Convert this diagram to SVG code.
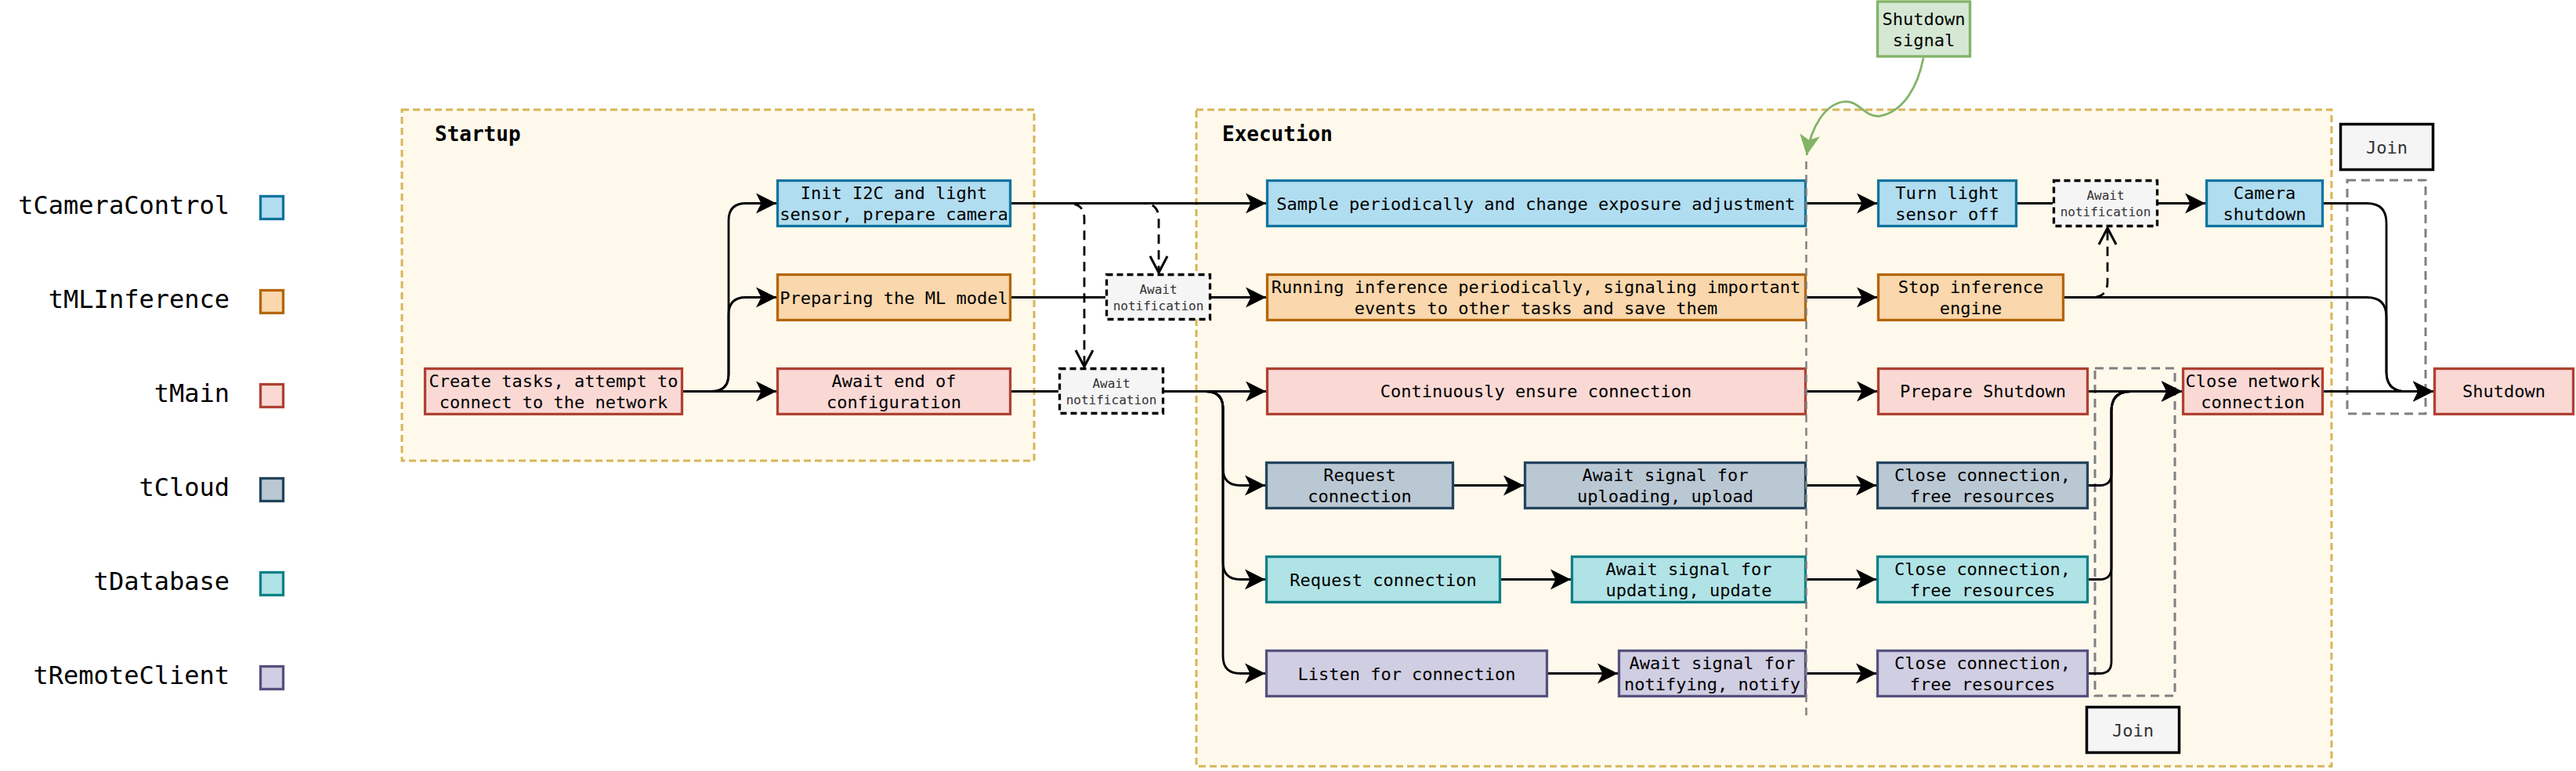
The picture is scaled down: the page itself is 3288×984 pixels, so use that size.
<svg xmlns="http://www.w3.org/2000/svg" width="3288" height="984" viewBox="0 0 3288 984">
<style>
text{font-family:'DejaVu Sans Mono','Liberation Mono',monospace;font-size:22px;fill:#000;text-anchor:middle}
.leg{font-size:32px;text-anchor:end}
.ttl{font-size:26px;font-weight:bold;text-anchor:start}
.aw{font-size:16px;fill:#333}
.jt{fill:#333}
.grp{fill:#fff9ec;stroke:#d6b656;stroke-width:3;stroke-dasharray:9 5}
.n{stroke-width:3.3}
.blue{fill:#b1ddf0;stroke:#10739e}
.org{fill:#fad7ac;stroke:#b46504}
.red{fill:#fad9d5;stroke:#ae4132}
.cld{fill:#bac8d3;stroke:#23445d}
.db{fill:#b0e3e6;stroke:#0e8088}
.rc{fill:#d0cee2;stroke:#56517e}
.grn{fill:#d5e8d4;stroke:#82b366}
.await{fill:#f5f5f5;stroke:#000;stroke-width:3.3;stroke-dasharray:8 5}
.join{fill:#f5f5f5;stroke:#000;stroke-width:3.5}
.gdash{fill:none;stroke:#808080;stroke-width:3;stroke-dasharray:11 7}
.e{fill:none;stroke:#000;stroke-width:2.8}
.ea{marker-end:url(#arr)}
.ed{stroke-dasharray:12 8;marker-end:url(#open)}
</style>
<defs>
<marker id="arr" markerUnits="userSpaceOnUse" viewBox="-28 -15 30 30" markerWidth="30" markerHeight="30" refX="0" refY="0" orient="auto" overflow="visible"><path d="M0,0 L-26,-13 L-19.5,0 L-26,13 Z" fill="#000" stroke="none"/></marker>
<marker id="open" markerUnits="userSpaceOnUse" viewBox="-28 -15 30 30" markerWidth="30" markerHeight="30" refX="0" refY="0" orient="auto" overflow="visible"><path d="M-21,-11 L0,0 L-21,11" fill="none" stroke="#000" stroke-width="3" stroke-dasharray="none"/></marker>
<marker id="garr" markerUnits="userSpaceOnUse" viewBox="-28 -15 30 30" markerWidth="30" markerHeight="30" refX="0" refY="0" orient="auto" overflow="visible"><path d="M0,0 L-26,-13 L-19.5,0 L-26,13 Z" fill="#82b366" stroke="none"/></marker>
</defs>
<rect width="3288" height="984" fill="#fff"/>

<g id="legend">
<text class="leg" x="293" y="273">tCameraControl</text><rect class="n blue" x="332.5" y="250.5" width="29" height="29"/>
<text class="leg" x="293" y="393">tMLInference</text><rect class="n org" x="332.5" y="370.5" width="29" height="29"/>
<text class="leg" x="293" y="513">tMain</text><rect class="n red" x="332.5" y="490.5" width="29" height="29"/>
<text class="leg" x="293" y="633">tCloud</text><rect class="n cld" x="332.5" y="610.5" width="29" height="29"/>
<text class="leg" x="293" y="753">tDatabase</text><rect class="n db" x="332.5" y="730.5" width="29" height="29"/>
<text class="leg" x="293" y="873">tRemoteClient</text><rect class="n rc" x="332.5" y="850.5" width="29" height="29"/>
</g>

<g id="startup"><rect class="grp" x="513" y="140" width="807" height="448"/><text class="ttl" x="555" y="180">Startup</text></g>
<g id="execution"><rect class="grp" x="1527" y="140" width="1449" height="838"/><text class="ttl" x="1560" y="180">Execution</text></g>

<g id="join-areas">
<rect class="gdash" x="2996" y="230" width="100" height="298"/>
<rect class="gdash" x="2674" y="470" width="102" height="418"/>
</g>

<g id="connectors">
<path class="e ea" d="M872,499.5 H991"/>
<path class="e ea" d="M872,499.5 H908 Q930,499.5 930,477.5 V281.5 Q930,259.5 952,259.5 H991"/>
<path class="e ea" d="M872,499.5 H908 Q930,499.5 930,477.5 V401.5 Q930,379.5 952,379.5 H991"/>
<path class="e ea" d="M1291,259.5 H1616"/>
<path class="e ed" d="M1291,259.5 H1364 Q1384,259.5 1384,279.5 V468"/>
<path class="e ed" d="M1291,259.5 H1459 Q1479,259.5 1479,279.5 V348"/>
<path class="e" d="M1291,379.5 H1411"/>
<path class="e ea" d="M1546,379.5 H1616"/>
<path class="e" d="M1291,499.5 H1351"/>
<path class="e ea" d="M1486,499.5 H1616"/>
<path class="e ea" d="M1486,499.5 H1539 Q1561,499.5 1561,521.5 V597.5 Q1561,619.5 1583,619.5 H1615"/>
<path class="e ea" d="M1486,499.5 H1539 Q1561,499.5 1561,521.5 V717.5 Q1561,739.5 1583,739.5 H1615"/>
<path class="e ea" d="M1486,499.5 H1539 Q1561,499.5 1561,521.5 V837.5 Q1561,859.5 1583,859.5 H1615"/>
<path class="e ea" d="M1856,619.5 H1945"/>
<path class="e ea" d="M1916,739.5 H2005"/>
<path class="e ea" d="M1976,859.5 H2065"/>
<path class="e ea" d="M2306,259.5 H2396"/>
<path class="e ea" d="M2306,379.5 H2396"/>
<path class="e ea" d="M2306,499.5 H2396"/>
<path class="e ea" d="M2306,619.5 H2395"/>
<path class="e ea" d="M2306,739.5 H2395"/>
<path class="e ea" d="M2306,859.5 H2395"/>
<path class="e" d="M2575,259.5 H2620"/>
<path class="e ea" d="M2755,259.5 H2815"/>
<path class="e ed" d="M2635,379.5 H2670 Q2690,379.5 2690,359.5 V291"/>
<path class="e ea" d="M2635,379.5 H3021 Q3046,379.5 3046,404.5 V474.5 Q3046,499.5 3071,499.5 H3106"/>
<path class="e ea" d="M2966,259.5 H3021 Q3046,259.5 3046,284.5 V474.5 Q3046,499.5 3071,499.5 H3106"/>
<path class="e ea" d="M2966,499.5 H3106"/>
<path class="e ea" d="M2666,499.5 H2785"/>
<path class="e ea" d="M2666,619.5 H2680 Q2695,619.5 2695,604.5 V524.5 Q2695,499.5 2720,499.5 H2785"/>
<path class="e ea" d="M2666,739.5 H2680 Q2695,739.5 2695,724.5 V524.5 Q2695,499.5 2720,499.5 H2785"/>
<path class="e ea" d="M2666,859.5 H2680 Q2695,859.5 2695,844.5 V524.5 Q2695,499.5 2720,499.5 H2785"/>
<path d="M2455,74 C2448,110 2430,142 2400,148 C2380,151 2372,126 2352,130 C2330,134 2312,160 2306,198" fill="none" stroke="#82b366" stroke-width="2.8" marker-end="url(#garr)"/>
</g>

<g id="n_create"><rect class="n red" x="542.5" y="470.5" width="328" height="58"/><text x="706.5" y="493.5">Create tasks, attempt to</text><text x="706.5" y="520.5">connect to the network</text></g>
<g id="n_init"><rect class="n blue" x="992.5" y="230.5" width="297" height="58"/><text x="1141" y="254">Init I2C and light</text><text x="1141" y="281">sensor, prepare camera</text></g>
<g id="n_prepml"><rect class="n org" x="992.5" y="350.5" width="297" height="58"/><text x="1141" y="387.5">Preparing the ML model</text></g>
<g id="n_awaitcfg"><rect class="n red" x="992.5" y="470.5" width="297" height="58"/><text x="1141" y="494">Await end of</text><text x="1141" y="521">configuration</text></g>
<g id="n_await1"><rect class="await" x="1412.5" y="350.5" width="132" height="57"/><text class="aw" x="1478.5" y="374.5">Await</text><text class="aw" x="1478.5" y="395.5">notification</text></g>
<g id="n_await2"><rect class="await" x="1352.5" y="470.5" width="132" height="57"/><text class="aw" x="1418.5" y="494.5">Await</text><text class="aw" x="1418.5" y="515.5">notification</text></g>

<g id="n_sample"><rect class="n blue" x="1617.5" y="230.5" width="687" height="58"/><text x="1960.5" y="267.5">Sample periodically and change exposure adjustment</text></g>
<g id="n_running"><rect class="n org" x="1617.5" y="350.5" width="687" height="58"/><text x="1960.5" y="374">Running inference periodically, signaling important</text><text x="1960.5" y="401">events to other tasks and save them</text></g>
<g id="n_continuous"><rect class="n red" x="1617.5" y="470.5" width="687" height="58"/><text x="1960.5" y="507">Continuously ensure connection</text></g>
<g id="n_reqcloud"><rect class="n cld" x="1616.5" y="590.5" width="238" height="58"/><text x="1735.5" y="614">Request</text><text x="1735.5" y="641">connection</text></g>
<g id="n_awaitup"><rect class="n cld" x="1946.5" y="590.5" width="358" height="58"/><text x="2125.5" y="614">Await signal for</text><text x="2125.5" y="641">uploading, upload</text></g>
<g id="n_reqdb"><rect class="n db" x="1616.5" y="710.5" width="298" height="58"/><text x="1765.5" y="747.5">Request connection</text></g>
<g id="n_awaitupd"><rect class="n db" x="2006.5" y="710.5" width="298" height="58"/><text x="2155.5" y="734">Await signal for</text><text x="2155.5" y="761">updating, update</text></g>
<g id="n_listen"><rect class="n rc" x="1616.5" y="830.5" width="358" height="58"/><text x="1795.5" y="867.5">Listen for connection</text></g>
<g id="n_awaitnot"><rect class="n rc" x="2066.5" y="830.5" width="238" height="58"/><text x="2185.5" y="854">Await signal for</text><text x="2185.5" y="881">notifying, notify</text></g>

<g id="n_turnoff"><rect class="n blue" x="2397.5" y="230.5" width="176" height="58"/><text x="2485.5" y="254">Turn light</text><text x="2485.5" y="281">sensor off</text></g>
<g id="n_await3"><rect class="await" x="2621.5" y="230.5" width="132" height="58"/><text class="aw" x="2687.5" y="255">Await</text><text class="aw" x="2687.5" y="276">notification</text></g>
<g id="n_camshut"><rect class="n blue" x="2816.5" y="230.5" width="148" height="58"/><text x="2890.5" y="254">Camera</text><text x="2890.5" y="281">shutdown</text></g>
<g id="n_stopinf"><rect class="n org" x="2397.5" y="350.5" width="236" height="58"/><text x="2515.5" y="374">Stop inference</text><text x="2515.5" y="401">engine</text></g>
<g id="n_prepshut"><rect class="n red" x="2397.5" y="470.5" width="267" height="58"/><text x="2531" y="507">Prepare Shutdown</text></g>
<g id="n_closecloud"><rect class="n cld" x="2396.5" y="590.5" width="268" height="58"/><text x="2530.5" y="614">Close connection,</text><text x="2530.5" y="641">free resources</text></g>
<g id="n_closedb"><rect class="n db" x="2396.5" y="710.5" width="268" height="58"/><text x="2530.5" y="734">Close connection,</text><text x="2530.5" y="761">free resources</text></g>
<g id="n_closerc"><rect class="n rc" x="2396.5" y="830.5" width="268" height="58"/><text x="2530.5" y="854">Close connection,</text><text x="2530.5" y="881">free resources</text></g>
<g id="n_closenet"><rect class="n red" x="2786.5" y="470.5" width="178" height="58"/><text x="2875.5" y="493.5">Close network</text><text x="2875.5" y="520.5">connection</text></g>
<g id="n_shutdown"><rect class="n red" x="3107.5" y="470.5" width="177" height="58"/><text x="3196" y="507">Shutdown</text></g>
<g id="n_signal"><rect class="n grn" x="2396.5" y="2" width="118" height="70"/><text x="2455.5" y="31.5">Shutdown</text><text x="2455.5" y="58.5">signal</text></g>
<g id="n_join1"><rect class="join" x="2987.5" y="158.5" width="118" height="58"/><text class="jt" x="3046.5" y="195.5">Join</text></g>
<g id="n_join2"><rect class="join" x="2663.5" y="902.5" width="118" height="58"/><text class="jt" x="2722.5" y="939.5">Join</text></g>

<g id="barrier"><line x1="2305.5" y1="206" x2="2305.5" y2="919" stroke="#808080" stroke-width="2.5" stroke-dasharray="10 7"/></g>
</svg>
